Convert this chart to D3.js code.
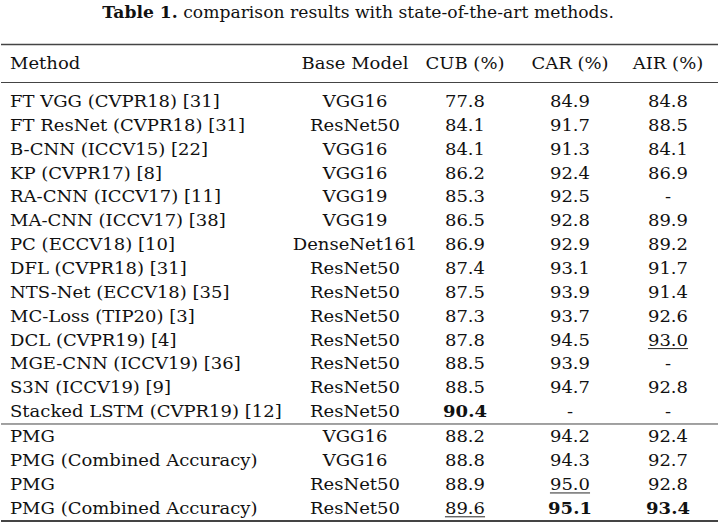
<!DOCTYPE html>
<html>
<head>
<meta charset="utf-8">
<script src="https://cdn.jsdelivr.net/npm/d3@7"></script>
<style>
  html, body { margin: 0; padding: 0; background: #fff; }
  svg { display: block; }
  text { font-family: "DejaVu Serif", serif; fill: #111; }
</style>
</head>
<body>
<svg id="chart" width="720" height="527"></svg>
<script>
// ---- data ----
const titleLabel = "Table 1.";
const titleText = " comparison results with state-of-the-art methods.";
const headers = ["Method", "Base Model", "CUB (%)", "CAR (%)", "AIR (%)"];
const methods = [
  "FT VGG (CVPR18) [31]", "FT ResNet (CVPR18) [31]", "B-CNN (ICCV15) [22]", "KP (CVPR17) [8]",
  "RA-CNN (ICCV17) [11]", "MA-CNN (ICCV17) [38]", "PC (ECCV18) [10]", "DFL (CVPR18) [31]",
  "NTS-Net (ECCV18) [35]", "MC-Loss (TIP20) [3]", "DCL (CVPR19) [4]", "MGE-CNN (ICCV19) [36]",
  "S3N (ICCV19) [9]", "Stacked LSTM (CVPR19) [12]",
  "PMG", "PMG (Combined Accuracy)", "PMG", "PMG (Combined Accuracy)"
];
const baseModels = [
  "VGG16", "ResNet50", "VGG16", "VGG16", "VGG19", "VGG19", "DenseNet161", "ResNet50",
  "ResNet50", "ResNet50", "ResNet50", "ResNet50", "ResNet50", "ResNet50",
  "VGG16", "VGG16", "ResNet50", "ResNet50"
];
const cub = [77.8, 84.1, 84.1, 86.2, 85.3, 86.5, 86.9, 87.4, 87.5, 87.3, 87.8, 88.5, 88.5, 90.4, 88.2, 88.8, 88.9, 89.6];
const car = [84.9, 91.7, 91.3, 92.4, 92.5, 92.8, 92.9, 93.1, 93.9, 93.7, 94.5, 93.9, 94.7, null, 94.2, 94.3, 95.0, 95.1];
const air = [84.8, 88.5, 84.1, 86.9, null, 89.9, 89.2, 91.7, 91.4, 92.6, 93.0, null, 92.8, null, 92.4, 92.7, 92.8, 93.4];
const groupSizes = [14, 4];

// ---- layout ----
const svg = d3.select("#chart");
const W = 720;
const fs = 17;      // font size
const sx = 1.06;    // slight horizontal stretch to mimic the wider Computer Modern face

function place(sel, xf, yf) {
  return sel.attr("transform", (d, i) => `translate(${xf(d, i)},${yf(d, i)}) scale(${sx},1)`);
}

// title
const title = svg.append("text")
  .attr("transform", `translate(${W / 2 - 2},17.5) scale(${sx},1)`)
  .attr("text-anchor", "middle")
  .style("font-size", "16.2px");
title.append("tspan").style("font-weight", "bold").text(titleLabel);
title.append("tspan").text(titleText);

// columns
const colX = d3.scaleOrdinal().domain(headers).range([10, 355, 465, 570, 668]);
const colAnchor = h => (h === "Method" ? "start" : "middle");

// rows: index scale with a small extra gap between groups
const nRows = methods.length;
const rowY = d3.scaleLinear().domain([0, nRows - 1]).range([101, 507.8 - 1.2]);
const yOf = i => rowY(i) + (i >= groupSizes[0] ? 1.2 : 0);

// rules
const rules = [
  { y: 44.5, w: 1.6 },
  { y: 82.5, w: 1 },
  { y: (yOf(groupSizes[0] - 1) + yOf(groupSizes[0])) / 2 + 0.3, w: 1 },
  { y: 521, w: 1.8 }
];
svg.selectAll("line.rule").data(rules).join("line")
  .attr("class", "rule")
  .attr("x1", 1).attr("x2", 718)
  .attr("y1", d => d.y).attr("y2", d => d.y)
  .attr("stroke", "#444").attr("stroke-width", d => d.w);

// header
place(svg.selectAll("text.hdr").data(headers).join("text").attr("class", "hdr"),
      d => colX(d), () => 69)
  .attr("text-anchor", d => colAnchor(d))
  .style("font-size", fs + "px")
  .text(d => d);

// best = bold, second best = underlined
function ranks(vals) {
  const uniq = Array.from(new Set(vals.filter(v => v != null))).sort((a, b) => b - a);
  return { best: uniq[0], second: uniq[1] };
}
const numCols = [
  { key: headers[2], vals: cub },
  { key: headers[3], vals: car },
  { key: headers[4], vals: air }
];

const baseOffset = 6;
place(svg.selectAll("text.method").data(methods).join("text").attr("class", "method"),
      () => colX(headers[0]), (d, i) => yOf(i) + baseOffset)
  .attr("text-anchor", "start")
  .style("font-size", fs + "px")
  .text(d => d);

place(svg.selectAll("text.base").data(baseModels).join("text").attr("class", "base"),
      () => colX(headers[1]), (d, i) => yOf(i) + baseOffset)
  .attr("text-anchor", "middle")
  .style("font-size", fs + "px")
  .text(d => d);

numCols.forEach(col => {
  const r = ranks(col.vals);
  const g = svg.append("g");
  const cells = place(g.selectAll("text").data(col.vals).join("text"),
      () => colX(col.key), (d, i) => yOf(i) + baseOffset)
    .attr("text-anchor", "middle")
    .style("font-size", fs + "px")
    .style("font-weight", d => (d === r.best ? "bold" : "normal"))
    .text(d => (d == null ? "-" : d.toFixed(1)));
  cells.each(function (d, i) {
    if (d === r.second) {
      const len = this.getComputedTextLength() * sx;
      g.append("line")
        .attr("x1", colX(col.key) - len / 2).attr("x2", colX(col.key) + len / 2)
        .attr("y1", yOf(i) + baseOffset + 3).attr("y2", yOf(i) + baseOffset + 3)
        .attr("stroke", "#111").attr("stroke-width", 0.9);
    }
  });
});
</script>
</body>
</html>
